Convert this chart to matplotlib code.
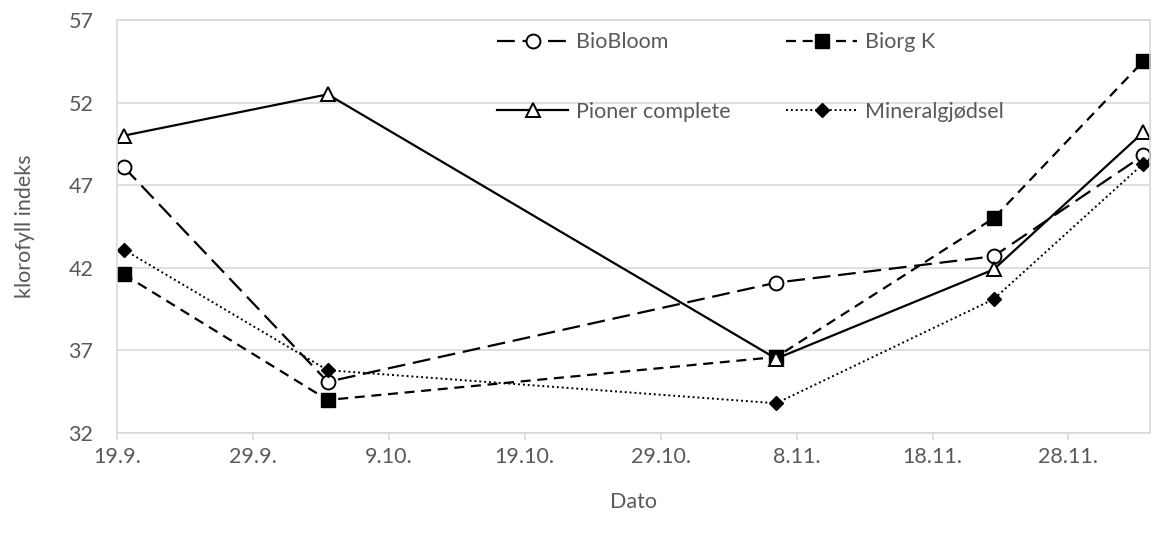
import pandas as pd
import matplotlib.pyplot as plt
import matplotlib.dates as mdates

# measurement dates and values (klorofyll indeks)
dates = ["2020-09-19", "2020-10-04", "2020-11-06", "2020-11-22", "2020-12-03"]
biobloom = [48.1, 35.1, 41.1, 42.7, 48.8]
biorg_k = [41.6, 34.0, 36.6, 45.0, 54.5]
pioner = [50.0, 52.5, 36.5, 41.9, 50.2]
mineral = [43.1, 35.8, 33.8, 40.1, 48.3]

tick_dates = ["2020-09-19", "2020-09-29", "2020-10-09", "2020-10-19",
              "2020-10-29", "2020-11-08", "2020-11-18", "2020-11-28"]
tick_labels = ["19.9.", "29.9.", "9.10.", "19.10.", "29.10.", "8.11.", "18.11.", "28.11."]

plt.rcParams["font.family"] = ["Lato", "DejaVu Sans"]
txt = "#595959"
grid = "#d9d9d9"
fs = 15.5

x = mdates.date2num(pd.to_datetime(dates)) + 0.5

fig = plt.figure(figsize=(11.52, 5.38), dpi=100)
ax = fig.add_axes([117 / 1152, 1 - 433 / 538, (1150 - 117) / 1152, (433 - 20) / 538])

l1, = ax.plot(x, biobloom, color="black", lw=1.6, dashes=(8, 3.5), marker="o", ms=10,
              mfc="white", mec="black", mew=1.4, label="BioBloom")
l2, = ax.plot(x, biorg_k, color="black", lw=1.6, dashes=(4.5, 3), marker="s", ms=9.5,
              mfc="black", mec="black", label="Biorg K")
l3, = ax.plot(x, pioner, color="black", lw=1.6, marker="^", ms=10,
              mfc="white", mec="black", mew=1.4, label="Pioner complete")
l4, = ax.plot(x, mineral, color="black", lw=1.4, dashes=(1, 1.5), marker="D", ms=7.5,
              mfc="black", mec="black", label="Mineralgjødsel")

ax.set_ylim(32, 57)
ax.set_yticks(range(32, 58, 5))
start = mdates.date2num(pd.Timestamp("2020-09-19"))
ax.set_xlim(start, start + 76)
ax.set_xticks(mdates.date2num(pd.to_datetime(tick_dates)))
ax.set_xticklabels(tick_labels)

ax.grid(axis="y", color=grid, lw=1.2)
ax.set_axisbelow(True)
for s in ax.spines.values():
    s.set_color(grid)
    s.set_linewidth(1.2)
ax.tick_params(axis="x", colors=grid, length=5, width=1.2, labelcolor=txt,
               labelsize=fs, pad=5)
ax.tick_params(axis="y", length=0, labelcolor=txt, labelsize=fs, pad=17)

ax.set_ylabel("klorofyll indeks", color=txt, fontsize=fs, labelpad=24)
ax.set_xlabel("Dato", color=txt, fontsize=fs, labelpad=18)

ax.legend([l1, l3, l2, l4], ["BioBloom", "Pioner complete", "Biorg K", "Mineralgjødsel"],
          loc="upper left", bbox_to_anchor=(0.368, 0.97), ncol=2, frameon=False,
          fontsize=fs, labelcolor=txt, handlelength=3.3, columnspacing=2.6,
          labelspacing=2.3, handletextpad=0.35, borderpad=0, borderaxespad=0)

fig.savefig("out.png", dpi=100)
